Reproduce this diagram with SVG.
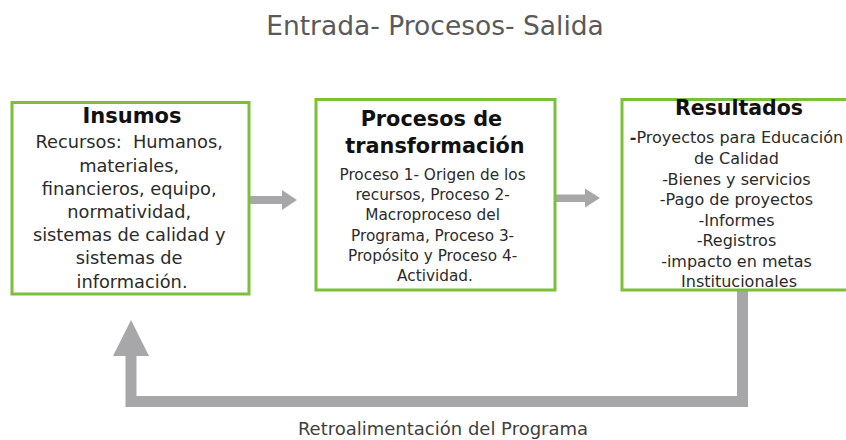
<svg xmlns="http://www.w3.org/2000/svg" width="846" height="440" viewBox="0 0 846 440">
<style>
.box{fill:#fff;stroke:#7dbf3c;stroke-width:3}
.t{font-family:"DejaVu Sans",Verdana,sans-serif;text-anchor:middle;fill:#2b2b2b}
.h{font-weight:bold;fill:#111}
.arr{fill:#a7a7a9}
</style>
<rect width="846" height="440" fill="#fff"/>
<text class="t" x="435" y="35" font-size="26.5" style="fill:#5a5a5a">Entrada- Procesos- Salida</text>
<g id="connectors">
<rect class="arr" x="250" y="196" width="33" height="8"/>
<polygon class="arr" points="282,190 297,200 282,210"/>
<rect class="arr" x="556" y="194.5" width="30" height="7.5"/>
<polygon class="arr" points="585,188.5 600,198 585,207.5"/>
<path d="M742.5,291 V401.5 H131 V354" fill="none" stroke="#a7a7a9" stroke-width="11"/>
<polygon class="arr" points="113,356 149,356 131,320"/>
</g>
<g id="insumos">
<rect class="box" x="12" y="102.5" width="237" height="191.5"/>
<text class="t h" x="132" y="122.7" font-size="21">Insumos</text>
<text class="t" font-size="17.8">
<tspan x="132" y="148.3" xml:space="preserve">Recursos:  Humanos,</tspan>
<tspan x="132" y="171.6">materiales,</tspan>
<tspan x="132" y="194.8">financieros, equipo,</tspan>
<tspan x="132" y="218">normatividad,</tspan>
<tspan x="132" y="241.2">sistemas de calidad y</tspan>
<tspan x="132" y="264.4">sistemas de</tspan>
<tspan x="132" y="287.6">información.</tspan>
</text>
</g>
<g id="procesos">
<rect class="box" x="316" y="99.5" width="239" height="190.5"/>
<text class="t h" font-size="20.8">
<tspan x="435" y="126">Procesos de</tspan>
<tspan x="435" y="153">transformación</tspan>
</text>
<text class="t" font-size="15.3">
<tspan x="435" y="179.5">Proceso 1- Origen de los</tspan>
<tspan x="435" y="200">recursos, Proceso 2-</tspan>
<tspan x="435" y="220.3">Macroproceso del</tspan>
<tspan x="435" y="240.6">Programa, Proceso 3-</tspan>
<tspan x="435" y="260.9">Propósito y Proceso 4-</tspan>
<tspan x="435" y="281.2">Actividad.</tspan>
</text>
</g>
<g id="resultados">
<rect class="box" x="622" y="99.5" width="240" height="190.5"/>
<text class="t h" x="739" y="115" font-size="20.5">Resultados</text>
<text class="t" font-size="16">
<tspan x="739" y="143.3"><tspan font-weight="bold">-</tspan>Proyectos para Educación</tspan>
<tspan x="739" y="164">de Calidad</tspan>
<tspan x="739" y="184.5">-Bienes y servicios</tspan>
<tspan x="739" y="205">-Pago de proyectos</tspan>
<tspan x="739" y="225.5">-Informes</tspan>
<tspan x="739" y="246">-Registros</tspan>
<tspan x="739" y="266.5">-impacto en metas</tspan>
<tspan x="739" y="287">Institucionales</tspan>
</text>
</g>
<text class="t" x="443" y="435" font-size="18" style="fill:#404040">Retroalimentación del Programa</text>
</svg>
